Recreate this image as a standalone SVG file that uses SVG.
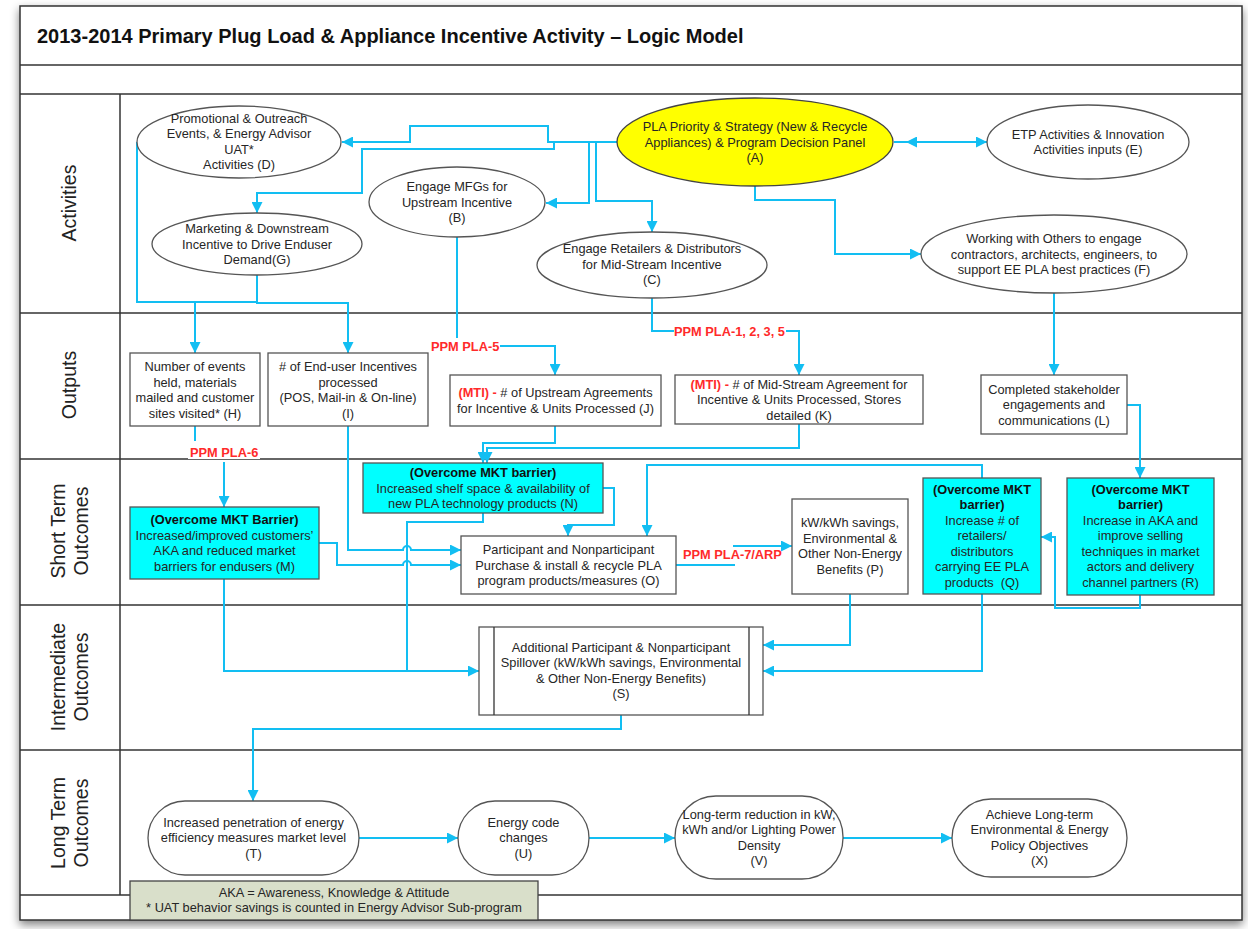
<svg xmlns="http://www.w3.org/2000/svg" width="1248" height="929" viewBox="0 0 1248 929">
<defs>
<style>
.fr{fill:none;stroke:#333;stroke-width:1.5}
.c{fill:none;stroke:#12BEF2;stroke-width:2;marker-end:url(#ah)}
.cn{fill:none;stroke:#12BEF2;stroke-width:2}
.nd{fill:#fff;stroke:#555;stroke-width:1.3}
.cy{fill:#00FFFF;stroke:#555;stroke-width:1.3}
.t{font-family:"Liberation Sans",Arial,sans-serif;font-size:12.8px;fill:#262626;text-anchor:middle}
.b{font-weight:bold;fill:#111}
.r{font-weight:bold;fill:#FF2A2A}
.red{font-family:"Liberation Sans",Arial,sans-serif;font-size:12.8px;font-weight:bold;fill:#FF2A2A}
.lane{font-family:"Liberation Sans",Arial,sans-serif;font-size:19.5px;fill:#222;text-anchor:middle}
</style>
<marker id="ah" viewBox="0 0 10 10" refX="10" refY="5" markerWidth="11" markerHeight="11" markerUnits="userSpaceOnUse" orient="auto-start-reverse"><path d="M0,0 L10,5 L0,10 z" fill="#12BEF2"/></marker>
<filter id="sh" x="-5%" y="-5%" width="110%" height="110%"><feGaussianBlur in="SourceAlpha" stdDeviation="5"/><feOffset dx="0" dy="4"/><feComponentTransfer><feFuncA type="linear" slope="0.5"/></feComponentTransfer><feMerge><feMergeNode/><feMergeNode in="SourceGraphic"/></feMerge></filter>
</defs>
<rect width="1248" height="929" fill="#fff"/>
<g id="frame">
<rect x="20" y="6" width="1222" height="914" fill="#fff" stroke="#333" stroke-width="1.5" filter="url(#sh)"/>
<line class="fr" x1="20" y1="65" x2="1242" y2="65"/>
<line class="fr" x1="20" y1="94" x2="1242" y2="94"/>
<line class="fr" x1="20" y1="313" x2="1242" y2="313"/>
<line class="fr" x1="20" y1="459" x2="1242" y2="459"/>
<line class="fr" x1="20" y1="605" x2="1242" y2="605"/>
<line class="fr" x1="20" y1="750" x2="1242" y2="750"/>
<line class="fr" x1="20" y1="895" x2="1242" y2="895"/>
<line class="fr" x1="120" y1="94" x2="120" y2="895"/>
<text x="37" y="43" font-family="'Liberation Sans',Arial,sans-serif" font-size="20" font-weight="bold" fill="#111">2013-2014 Primary Plug Load &amp; Appliance Incentive Activity – Logic Model</text>
<text class="lane" transform="translate(76,203) rotate(-90)">Activities</text>
<text class="lane" transform="translate(76,385) rotate(-90)">Outputs</text>
<text class="lane" transform="translate(65,531) rotate(-90)">Short Term</text>
<text class="lane" transform="translate(88,531) rotate(-90)">Outcomes</text>
<text class="lane" transform="translate(65,677) rotate(-90)">Intermediate</text>
<text class="lane" transform="translate(88,677) rotate(-90)">Outcomes</text>
<text class="lane" transform="translate(65,823) rotate(-90)">Long Term</text>
<text class="lane" transform="translate(88,823) rotate(-90)">Outcomes</text>
</g>
<g id="connectors">
<path class="c" d="M617,142 H548 V126 H410 V142 H342"/>
<path class="c" d="M554,142 V149 H362 V193 H257 V213"/>
<path class="c" d="M589,142 V203 H546"/>
<path class="c" d="M596,142 V201 H652 V232"/>
<path class="c" d="M906,142 H987" style="marker-start:url(#ah)"/>
<line class="cn" x1="894" y1="142" x2="906" y2="142"/>
<path class="c" d="M755,186 V200 H835 V254 H921"/>
<path class="c" d="M137,142 V302 H195 V353"/>
<path class="c" d="M257,275 V303 H348 V353"/>
<path class="cn" d="M257,302 H195"/>
<path class="cn" d="M457,237 V338"/>
<path class="c" d="M500,346 H555 V375"/>
<path class="cn" d="M652,298 V331 H674"/>
<path class="c" d="M786,331 H799 V375"/>
<path class="c" d="M1054,293 V375"/>
<path class="cn" d="M195,426 V441"/>
<path class="c" d="M224,462 V507"/>
<path class="c" d="M348,426 V550 H403 a4,4 0 0 1 8,0 H461"/>
<path class="c" d="M319,543 H337 V565 H403 a4,4 0 0 1 8,0 H461"/>
<path class="c" d="M555,426 V443 H483 V463"/>
<path class="c" d="M799,424 V448 H487 V463"/>
<path class="cn" d="M483,513 V522 H407 V671"/>
<path class="c" d="M224,579 V671 H479"/>
<path class="c" d="M603,488 H614 V525 H568 V536"/>
<path class="c" d="M982,478 V465 H647 V536"/>
<path class="cn" d="M676,565 H735"/>
<path class="c" d="M733,546 H792"/>
<path class="c" d="M850,594 V645 H763"/>
<path class="c" d="M982,594 V671 H763"/>
<path class="c" d="M1127,405 H1140 V478"/>
<path class="c" d="M1140,595 V608 H1055 V537 H1041"/>
<path class="c" d="M621,715 V729 H253 V801"/>
<path class="c" d="M359,838 H458"/>
<path class="c" d="M589,838 H675"/>
<path class="c" d="M843,838 H952"/>
<text class="red" x="431" y="351">PPM PLA-5</text>
<text class="red" x="674" y="336">PPM PLA-1, 2, 3, 5</text>
<rect x="188" y="443" width="72" height="16" fill="#fff"/>
<text class="red" x="190" y="457">PPM PLA-6</text>
<text class="red" x="683" y="559">PPM PLA-7/ARP</text>
</g>
<g id="node-D"><ellipse class="nd" cx="239" cy="142" rx="102" ry="36"/><text class="t"><tspan x="239" y="122.5">Promotional &amp; Outreach</tspan><tspan x="239" y="138">Events, &amp; Energy Advisor</tspan><tspan x="239" y="153.5">UAT*</tspan><tspan x="239" y="169">Activities (D)</tspan></text></g>
<g id="node-A"><ellipse cx="755" cy="142" rx="138" ry="44" fill="#FFFF00" stroke="#444" stroke-width="1.3"/><text class="t"><tspan x="755" y="131">PLA Priority &amp; Strategy (New &amp; Recycle</tspan><tspan x="755" y="146.5">Appliances) &amp; Program Decision Panel</tspan><tspan x="755" y="162">(A)</tspan></text></g>
<g id="node-E"><ellipse class="nd" cx="1088" cy="142" rx="101" ry="37"/><text class="t"><tspan x="1088" y="138.5">ETP Activities &amp; Innovation</tspan><tspan x="1088" y="154">Activities inputs (E)</tspan></text></g>
<g id="node-B"><ellipse class="nd" cx="457" cy="202" rx="88" ry="35"/><text class="t"><tspan x="457" y="191">Engage MFGs for</tspan><tspan x="457" y="206.5">Upstream Incentive</tspan><tspan x="457" y="222">(B)</tspan></text></g>
<g id="node-G"><ellipse class="nd" cx="257" cy="244" rx="105" ry="31"/><text class="t"><tspan x="257" y="233">Marketing &amp; Downstream</tspan><tspan x="257" y="248.5">Incentive to Drive Enduser</tspan><tspan x="257" y="264">Demand(G)</tspan></text></g>
<g id="node-C"><ellipse class="nd" cx="652" cy="265" rx="115" ry="33"/><text class="t"><tspan x="652" y="253">Engage Retailers &amp; Distributors</tspan><tspan x="652" y="268.5">for Mid-Stream Incentive</tspan><tspan x="652" y="284">(C)</tspan></text></g>
<g id="node-F"><ellipse class="nd" cx="1054" cy="254" rx="133" ry="39"/><text class="t"><tspan x="1054" y="243">Working with Others to engage</tspan><tspan x="1054" y="258.5">contractors, architects, engineers, to</tspan><tspan x="1054" y="274">support EE PLA best practices (F)</tspan></text></g>
<g id="node-H"><rect class="nd" x="130" y="353" width="130" height="73"/><text class="t"><tspan x="195" y="371">Number of events</tspan><tspan x="195" y="386.5">held, materials</tspan><tspan x="195" y="402">mailed and customer</tspan><tspan x="195" y="417.5">sites visited* (H)</tspan></text></g>
<g id="node-I"><rect class="nd" x="268" y="353" width="160" height="73"/><text class="t"><tspan x="348" y="371"># of End-user Incentives</tspan><tspan x="348" y="386.5">processed</tspan><tspan x="348" y="402">(POS, Mail-in &amp; On-line)</tspan><tspan x="348" y="417.5">(I)</tspan></text></g>
<g id="node-J"><rect class="nd" x="450" y="375" width="211" height="51"/><text class="t"><tspan x="555.5" y="397"><tspan class="r">(MTI) -</tspan> # of Upstream Agreements</tspan><tspan x="555.5" y="412.5">for Incentive &amp; Units Processed (J)</tspan></text></g>
<g id="node-K"><rect class="nd" x="675" y="375" width="248" height="49"/><text class="t"><tspan x="799" y="388.5"><tspan class="r">(MTI) -</tspan> # of Mid-Stream Agreement for</tspan><tspan x="799" y="404">Incentive &amp; Units Processed, Stores</tspan><tspan x="799" y="419.5">detailed (K)</tspan></text></g>
<g id="node-L"><rect class="nd" x="981" y="375" width="146" height="59"/><text class="t"><tspan x="1054" y="393.5">Completed stakeholder</tspan><tspan x="1054" y="409">engagements and</tspan><tspan x="1054" y="424.5">communications (L)</tspan></text></g>
<g id="node-M"><rect class="cy" x="130" y="507" width="189" height="72"/><text class="t"><tspan x="224.5" y="524" class="b">(Overcome MKT Barrier)</tspan><tspan x="224.5" y="539.5">Increased/improved customers’</tspan><tspan x="224.5" y="555">AKA and reduced market</tspan><tspan x="224.5" y="570.5">barriers for endusers (M)</tspan></text></g>
<g id="node-N"><rect class="cy" x="363" y="463" width="240" height="50"/><text class="t"><tspan x="483" y="477" class="b">(Overcome MKT barrier)</tspan><tspan x="483" y="492.5">Increased shelf space &amp; availability of</tspan><tspan x="483" y="508">new PLA technology products (N)</tspan></text></g>
<g id="node-O"><rect class="nd" x="461" y="536" width="215" height="58"/><text class="t"><tspan x="568.5" y="554">Participant and Nonparticipant</tspan><tspan x="568.5" y="569.5">Purchase &amp; install &amp; recycle PLA</tspan><tspan x="568.5" y="585">program products/measures (O)</tspan></text></g>
<g id="node-P"><rect class="nd" x="792" y="499" width="116" height="95"/><text class="t"><tspan x="850" y="527">kW/kWh savings,</tspan><tspan x="850" y="542.5">Environmental &amp;</tspan><tspan x="850" y="558">Other Non-Energy</tspan><tspan x="850" y="573.5">Benefits (P)</tspan></text></g>
<g id="node-Q"><rect class="cy" x="923" y="478" width="118" height="116"/><text class="t"><tspan x="982" y="493.5" class="b">(Overcome MKT</tspan><tspan x="982" y="509" class="b">barrier)</tspan><tspan x="982" y="524.5">Increase # of</tspan><tspan x="982" y="540">retailers/</tspan><tspan x="982" y="555.5">distributors</tspan><tspan x="982" y="571">carrying EE PLA</tspan><tspan x="982" y="586.5" xml:space="preserve">products  (Q)</tspan></text></g>
<g id="node-R"><rect class="cy" x="1067" y="478" width="147" height="117"/><text class="t"><tspan x="1140.5" y="493.5" class="b">(Overcome MKT</tspan><tspan x="1140.5" y="509" class="b">barrier)</tspan><tspan x="1140.5" y="524.5">Increase in AKA and</tspan><tspan x="1140.5" y="540">improve selling</tspan><tspan x="1140.5" y="555.5">techniques in market</tspan><tspan x="1140.5" y="571">actors and delivery</tspan><tspan x="1140.5" y="586.5">channel partners (R)</tspan></text></g>
<g id="node-S"><rect class="nd" x="479" y="627" width="284" height="88"/><line x1="494" y1="627" x2="494" y2="715" stroke="#333" stroke-width="1.3"/><line x1="749" y1="627" x2="749" y2="715" stroke="#333" stroke-width="1.3"/><text class="t"><tspan x="621" y="651.5">Additional Participant &amp; Nonparticipant</tspan><tspan x="621" y="667">Spillover (kW/kWh savings, Environmental</tspan><tspan x="621" y="682.5">&amp; Other Non-Energy Benefits)</tspan><tspan x="621" y="698">(S)</tspan></text></g>
<g id="node-T"><rect class="nd" x="148" y="801" width="211" height="74" rx="37"/><text class="t"><tspan x="253.5" y="826.5">Increased penetration of energy</tspan><tspan x="253.5" y="842">efficiency measures market level</tspan><tspan x="253.5" y="857.5">(T)</tspan></text></g>
<g id="node-U"><rect class="nd" x="458" y="801" width="131" height="74" rx="37"/><text class="t"><tspan x="523.5" y="826.5">Energy code</tspan><tspan x="523.5" y="842">changes</tspan><tspan x="523.5" y="857.5">(U)</tspan></text></g>
<g id="node-V"><rect class="nd" x="675" y="796" width="168" height="83" rx="41"/><text class="t"><tspan x="759" y="818.5">Long-term reduction in kW,</tspan><tspan x="759" y="834">kWh and/or Lighting Power</tspan><tspan x="759" y="849.5">Density</tspan><tspan x="759" y="865">(V)</tspan></text></g>
<g id="node-X"><rect class="nd" x="952" y="799" width="175" height="78" rx="39"/><text class="t"><tspan x="1039.5" y="818.5">Achieve Long-term</tspan><tspan x="1039.5" y="834">Environmental &amp; Energy</tspan><tspan x="1039.5" y="849.5">Policy Objectives</tspan><tspan x="1039.5" y="865">(X)</tspan></text></g>
<g id="legend"><rect x="130" y="881" width="408" height="39" fill="#D9DFCA" stroke="#444" stroke-width="1.3"/><text class="t"><tspan x="334" y="896.5">AKA = Awareness, Knowledge &amp; Attitude</tspan><tspan x="334" y="911.5">* UAT behavior savings is counted in Energy Advisor Sub-program</tspan></text></g>
</svg>
